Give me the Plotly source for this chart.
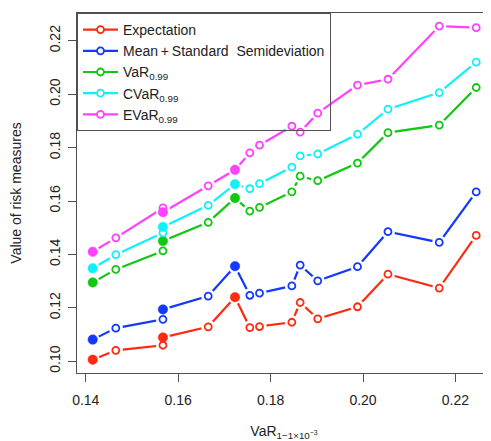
import plotly.graph_objects as go

# ---------------- data ----------------
var_x = [0.1415, 0.1465, 0.1567, 0.1567, 0.1665, 0.1723, 0.1755, 0.1776,
         0.1846, 0.1864, 0.1902, 0.1988, 0.2054, 0.2165, 0.2245]
filled = [True, False, False, True, False, True, False, False,
          False, False, False, False, False, False, False]
expectation = [0.1006, 0.1041, 0.1060, 0.1089, 0.1129, 0.1240, 0.1126, 0.1130,
               0.1146, 0.1220, 0.1159, 0.1204, 0.1326, 0.1274, 0.1471]
mean_semidev = [0.1081, 0.1124, 0.1157, 0.1194, 0.1244, 0.1356, 0.1247, 0.1255,
                0.1282, 0.1360, 0.1301, 0.1354, 0.1485, 0.1445, 0.1634]
var99 = [0.1295, 0.1344, 0.1413, 0.1450, 0.1520, 0.1611, 0.1562, 0.1576,
         0.1634, 0.1693, 0.1676, 0.1742, 0.1856, 0.1884, 0.2025]
cvar99 = [0.1348, 0.1399, 0.1481, 0.1503, 0.1584, 0.1663, 0.1646, 0.1665,
          0.1727, 0.1769, 0.1776, 0.1850, 0.1944, 0.2006, 0.2120]
evar99 = [0.1410, 0.1462, 0.1574, 0.1558, 0.1657, 0.1717, 0.1780, 0.1809,
          0.1880, 0.1858, 0.1929, 0.2034, 0.2056, 0.2255, 0.2249]

series_names = ["Expectation",
                "Mean\u2009+\u2009Standard\u00a0\u00a0Semideviation",
                "VaR<sub>0.99</sub>", "CVaR<sub>0.99</sub>", "EVaR<sub>0.99</sub>"]
series_values = [expectation, mean_semidev, var99, cvar99, evar99]
series_colors = ["#ff2a10", "#1438ff", "#10c810", "#10f0f8", "#ff40ff"]

x_ticks = [0.14, 0.16, 0.18, 0.20, 0.22]
y_ticks = [0.10, 0.12, 0.14, 0.16, 0.18, 0.20, 0.22]

FONT = "Liberation Sans, Arial, Helvetica, sans-serif"
LW = 2.2

fig = go.Figure()

# lines (also legend entries)
for name, vals, col in zip(series_names, series_values, series_colors):
    fig.add_trace(go.Scatter(
        x=var_x, y=vals, name=name, mode="lines+markers",
        line=dict(color=col, width=LW),
        marker=dict(symbol="circle", size=7, color="white",
                    line=dict(color=col, width=1.8)),
        hoverinfo="skip"))

# white halos to emulate R's type="b" gaps
for vals in series_values:
    fig.add_trace(go.Scatter(
        x=var_x, y=vals, mode="markers", showlegend=False, hoverinfo="skip",
        marker=dict(symbol="circle", size=14, color="white", line=dict(width=0))))

# markers: open circles and filled circles
for name, vals, col in zip(series_names, series_values, series_colors):
    ox = [x for x, f in zip(var_x, filled) if not f]
    oy = [y for y, f in zip(vals, filled) if not f]
    fx = [x for x, f in zip(var_x, filled) if f]
    fy = [y for y, f in zip(vals, filled) if f]
    fig.add_trace(go.Scatter(
        x=ox, y=oy, mode="markers", showlegend=False,
        marker=dict(symbol="circle", size=7, color="rgba(255,255,255,0)",
                    line=dict(color=col, width=1.8))))
    fig.add_trace(go.Scatter(
        x=fx, y=fy, mode="markers", showlegend=False,
        marker=dict(symbol="circle", size=9.5, color=col,
                    line=dict(color=col, width=0.5))))

axis_common = dict(
    showgrid=False, zeroline=False, showline=True, linecolor="#505050",
    linewidth=1, ticks="outside", ticklen=8, tickcolor="#505050",
    tickfont=dict(family=FONT, size=14, color="#222"), automargin=False,
)

fig.update_layout(
    width=483, height=433,
    margin=dict(l=69, r=0, t=5, b=68),
    paper_bgcolor="white", plot_bgcolor="white",
    font=dict(family=FONT, size=14, color="#222"),
    showlegend=True,
    legend=dict(x=0, y=1, xanchor="left", yanchor="top",
                bgcolor="rgba(0,0,0,0)", bordercolor="#505050", borderwidth=1,
                font=dict(family=FONT, size=14, color="#222"),
                tracegroupgap=0, itemsizing="trace", itemwidth=35),
    xaxis=dict(range=[0.1381, 0.2277], tickvals=x_ticks,
               ticktext=[f"{v:.2f}" for v in x_ticks], mirror=True,
               ticklabelstandoff=6,
               title=dict(text="VaR<sub>1\u22121\u00d710<sup>\u22123</sup></sub>",
                          font=dict(family=FONT, size=14, color="#222"), standoff=21),
               **axis_common),
    yaxis=dict(range=[0.0956, 0.2304], tickvals=y_ticks,
               ticktext=[f"{v:.2f}" for v in y_ticks], tickangle=-90,
               ticklabelstandoff=2,
               title=dict(text="Value of risk measures",
                          font=dict(family=FONT, size=14, color="#222"), standoff=28),
               **axis_common),
)

fig.write_html("out.html")
